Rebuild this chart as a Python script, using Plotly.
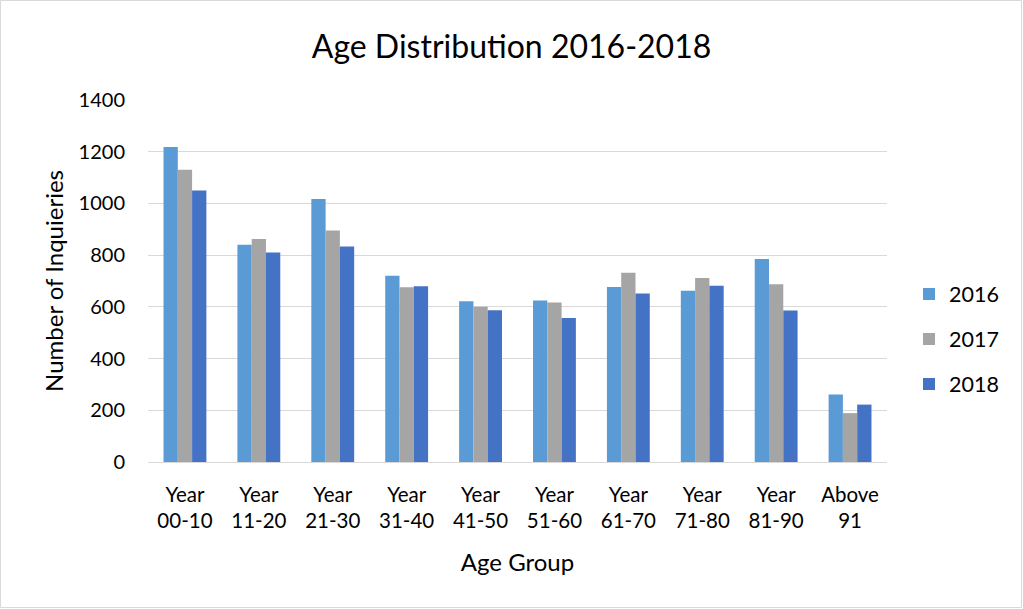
import plotly.graph_objects as go

# Age groups (two-line category labels)
age_groups = ["Year<br>00-10", "Year<br>11-20", "Year<br>21-30", "Year<br>31-40",
              "Year<br>41-50", "Year<br>51-60", "Year<br>61-70", "Year<br>71-80",
              "Year<br>81-90", "Above<br>91"]

# Inquiries per age group, by year
inq_2016 = [1218, 840, 1017, 720, 622, 625, 677, 662, 785, 261]
inq_2017 = [1130, 862, 895, 676, 600, 617, 732, 712, 687, 189]
inq_2018 = [1050, 810, 833, 680, 587, 557, 652, 682, 586, 222]

years = ["2016", "2017", "2018"]
colors = ["#5B9BD5", "#A5A5A5", "#4472C4"]

W, H = 1023, 609
ML, MR, MT, MB = 148, 136, 100, 147
FONT = "Lato"

fig = go.Figure()
for name, vals, col in zip(years, [inq_2016, inq_2017, inq_2018], colors):
    fig.add_trace(go.Bar(
        x=age_groups, y=vals, name=name, legendgroup=name,
        marker=dict(color=col, line=dict(width=0)),
    ))

pw = W - ML - MR
ph = H - MT - MB

fig.update_layout(
    width=W, height=H,
    margin=dict(l=ML, r=MR, t=MT, b=MB, autoexpand=False),
    paper_bgcolor="white", plot_bgcolor="white",
    font=dict(family=FONT, color="#000000", size=20),
    barmode="group", bargap=0.42, bargroupgap=0,
    title=dict(text="Age Distribution 2016-2018", x=0.5, xanchor="center",
               y=1 - 47 / H, yanchor="middle", yref="container",
               font=dict(family=FONT, size=32, color="#000000")),
    legend=dict(x=(909 - ML) / pw, xanchor="left", y=(462 - 339) / ph, yanchor="middle",
                font=dict(size=21.5), tracegroupgap=14, itemwidth=30,
                bgcolor="rgba(0,0,0,0)"),
    xaxis=dict(
        title=dict(text="Age Group", standoff=22, font=dict(size=24)),
        showline=True, linecolor="#D9D9D9", linewidth=1,
        ticks="", tickfont=dict(size=20.5), ticklabelstandoff=14, automargin=False,
    ),
    yaxis=dict(
        title=dict(text="Number of Inquieries", standoff=8, font=dict(size=24)),
        range=[0, 1400], dtick=200, showgrid=True, gridcolor="#D9D9D9",
        gridwidth=1, zeroline=False, ticks="", ticklabelstandoff=22,
        tickfont=dict(size=20), automargin=False,
    ),
    shapes=[dict(type="rect", xref="paper", yref="paper",
                 x0=-ML / pw + 0.5 / pw, x1=1 + (MR - 1.5) / pw,
                 y0=-(MB - 1.5) / ph, y1=1 + (MT - 0.5) / ph,
                 line=dict(color="#D9D9D9", width=1), fillcolor="rgba(0,0,0,0)",
                 layer="below")],
)

fig.write_html("out.html")
